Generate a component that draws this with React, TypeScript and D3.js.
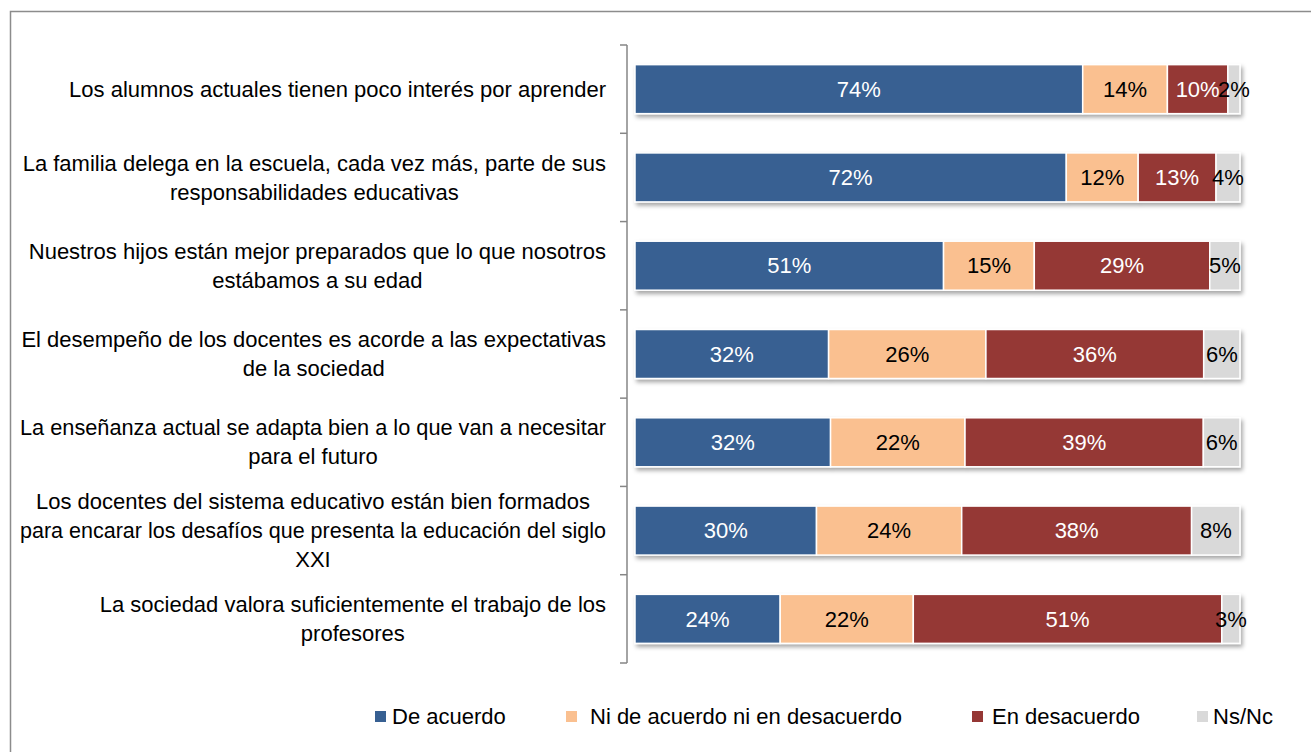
import React from 'react';
import * as d3 from 'd3';

const categories = [
  'Los alumnos actuales tienen poco interés por aprender',
  'La familia delega en la escuela, cada vez más, parte de sus|responsabilidades educativas',
  'Nuestros hijos están mejor preparados que lo que nosotros|estábamos a su edad',
  'El desempeño de los docentes es acorde a las expectativas|de la sociedad',
  'La enseñanza actual se adapta bien a lo que van a necesitar|para el futuro',
  'Los docentes del sistema educativo están bien formados|para encarar los desafíos que presenta la educación del siglo|XXI',
  'La sociedad valora suficientemente el trabajo de los|profesores',
];
const seriesNames = ['De acuerdo', 'Ni de acuerdo ni en desacuerdo', 'En desacuerdo', 'Ns/Nc'];
const deAcuerdo = [74, 72, 51, 32, 32, 30, 24];
const niNi = [14, 12, 15, 26, 22, 24, 22];
const enDesacuerdo = [10, 13, 29, 36, 39, 38, 51];
const nsNc = [2, 4, 5, 6, 6, 8, 3];
const colors = ['#376092', '#FAC090', '#953735', '#D9D9D9'];
const labelColors = ['#ffffff', '#000000', '#ffffff', '#000000'];

const W = 1311;
const H = 752;
const FONT = 'Liberation Sans, Arial, sans-serif';
const FS = 22;
const MAXW = 586; // widest label line, stays inside the frame

let ctx: CanvasRenderingContext2D | null = null;
function measure(t: string) {
  if (!ctx) ctx = document.createElement('canvas').getContext('2d');
  if (!ctx) return t.length * 10;
  ctx.font = `${FS}px ${FONT}`;
  return ctx.measureText(t).width;
}

export default function App() {
  const rows = categories.map((c, i) => {
    const vals = [deAcuerdo[i], niNi[i], enDesacuerdo[i], nsNc[i]];
    const tot = d3.sum(vals);
    return { cat: c, vals, shares: vals.map(v => v / tot) };
  });
  const keys = [0, 1, 2, 3];
  const stacked = d3.stack<any, number>().keys(keys as any).value((d, k) => d.shares[k])(rows);

  const x = d3.scaleLinear().domain([0, 1]).range([635, 1240]);
  const y = d3.scaleBand().domain(categories).range([45, 663]).paddingInner(0.445).paddingOuter(0.2225);
  const step = y.step();
  const axisX = 627;
  const lineH = 29;
  const textRight = 606;

  return (
    <svg width={W} height={H} style={{ position: 'absolute', left: 0, top: 0, fontFamily: FONT }}>
      <defs>
        <filter id="sh" x="-5%" y="-30%" width="110%" height="170%">
          <feDropShadow dx="2" dy="3" stdDeviation="2" floodColor="#000" floodOpacity="0.35" />
        </filter>
      </defs>
      <rect x={0} y={0} width={W} height={H} fill="#fff" />
      <rect x={10.5} y={11.5} width={W + 20} height={H + 20} fill="none" stroke="#8c8c8c" strokeWidth={1.5} />

      {/* category labels */}
      {categories.map(c => {
        const lines = c.split('|');
        const widths = lines.map(l => measure(l));
        const bw = Math.min(MAXW, d3.max(widths) || 0);
        const cx = textRight - bw / 2;
        const cy = (y(c) || 0) + y.bandwidth() / 2;
        const y0 = cy - ((lines.length - 1) * lineH) / 2;
        return lines.map((l, j) => (
          <text key={c + j} x={cx} y={y0 + j * lineH} dy="0.35em" textAnchor="middle" fontSize={FS} fill="#000"
            {...(widths[j] > MAXW ? { textLength: MAXW, lengthAdjust: 'spacingAndGlyphs' } : {})}>
            {l}
          </text>
        ));
      })}

      {/* bars */}
      <g filter="url(#sh)">
        {stacked.map((s, si) =>
          s.map((d, i) => (
            <rect key={si + '-' + i} x={x(d[0])} y={y(categories[i])} width={x(d[1]) - x(d[0])}
              height={y.bandwidth()} fill={colors[si]} stroke="#fff" strokeWidth={1.5} />
          ))
        )}
      </g>
      {stacked.map((s, si) =>
        s.map((d, i) => (
          <text key={'l' + si + '-' + i} x={(x(d[0]) + x(d[1])) / 2} y={(y(categories[i]) || 0) + y.bandwidth() / 2}
            dy="0.35em" textAnchor="middle" fontSize={FS} fill={labelColors[si]}>
            {rows[i].vals[si]}%
          </text>
        ))
      )}

      {/* axis */}
      <g stroke="#868686" strokeWidth={1.5}>
        <line x1={axisX} x2={axisX} y1={45} y2={663} />
        {d3.range(categories.length + 1).map(k => (
          <line key={k} x1={axisX - 7} x2={axisX} y1={45 + k * step} y2={45 + k * step} />
        ))}
      </g>

      {/* legend */}
      {seriesNames.map((n, i) => {
        const lx = [375, 566, 972, 1197][i];
        const tx = [392, 590, 992, 1213][i];
        return (
          <g key={n}>
            <rect x={lx} y={711} width={11} height={11} fill={colors[i]} />
            <text x={tx} y={716} dy="0.35em" fontSize={FS} fill="#000">{n}</text>
          </g>
        );
      })}
    </svg>
  );
}
